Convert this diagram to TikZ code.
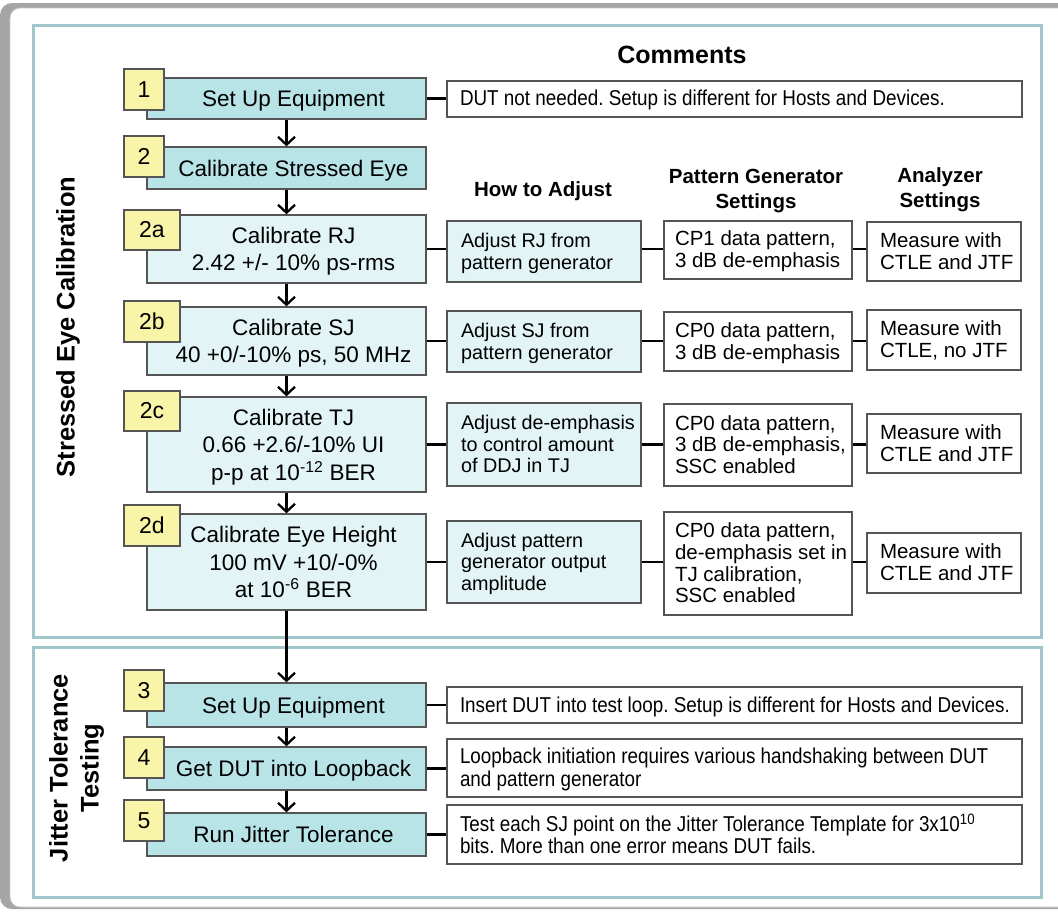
\documentclass[tikz,border=0pt]{standalone}
\usepackage{fontspec}
\setmainfont{Liberation Sans}
\newfontfamily\dgnarrow{Liberation Sans}[FakeStretch=0.877]
\usetikzlibrary{arrows.meta}
\frenchspacing

\definecolor{stepc}{RGB}{184,227,231}
\definecolor{subc}{RGB}{226,244,246}
\definecolor{tagc}{RGB}{249,245,168}
\definecolor{bordc}{RGB}{85,85,85}
\definecolor{secc}{RGB}{160,200,204}
\definecolor{framec}{RGB}{200,200,200}
\definecolor{shadec}{RGB}{165,165,165}

\newcommand\dgstep{\fontsize{22.5}{27.5}\selectfont}
\newcommand\dgbox{\fontsize{20.5}{21.7}\selectfont}
\newcommand\dgadj{\fontsize{19.8}{21.5}\selectfont}
\newcommand\dgcmt{\dgnarrow\fontsize{21.5}{22}\selectfont}
\newcommand\dghead{\bfseries\fontsize{20.5}{24.5}\selectfont}
\newcommand\dgtag{\fontsize{23}{27}\selectfont}
\newcommand\dgsec{\bfseries\fontsize{25.5}{31}\selectfont}
% lowered onto the optical centre while keeping the box size
\newcommand\dgdown[1]{\raisebox{-2.5pt}[\height][\depth]{#1}}
% step text, nudged right of the number tag
\newcommand\dgst[1]{\hspace*{14pt}\dgdown{\begin{tabular}{@{}c@{}}#1\end{tabular}}}
% left-aligned lines in a fixed-width slot, never rewrapped
\newcommand\dgl[2]{\makebox[#1][l]{\dgdown{\begin{tabular}{@{}l@{}}#2\end{tabular}}}}

\begin{document}
\begin{tikzpicture}[x=1pt,y=-1pt,
  boxbase/.style={draw=bordc, line width=1.3pt, inner sep=0pt},
  stepbox/.style={boxbase, fill=stepc, minimum width=279pt, font=\dgstep},
  subbox/.style={boxbase, fill=subc, minimum width=279pt, font=\dgstep},
  tagbox/.style={boxbase, fill=tagc, minimum height=41pt, font=\dgtag},
  adjbox/.style={boxbase, fill=subc, minimum width=194pt, font=\dgadj},
  pgbox/.style={boxbase, fill=white, minimum width=188pt, font=\dgbox},
  anbox/.style={boxbase, fill=white, minimum width=154pt, font=\dgbox},
  cmtbox/.style={boxbase, fill=white, minimum width=575pt, font=\dgcmt},
  head/.style={align=center, font=\dghead, inner sep=0pt},
  seclabel/.style={align=center, font=\dgsec, rotate=90, inner sep=0pt},
  section/.style={draw=secc, line width=3pt, fill=white},
  link/.style={draw=black, line width=2.5pt},
  flow/.style={link, -{Straight Barb[length=8pt,width=17pt,line width=2.3pt]}}
]
\useasboundingbox (0,0) rectangle (1058,911);

% outer frame with its shadow
\fill[shadec, rounded corners=12pt] (0,3) rectangle (1090,909);
\fill[white, rounded corners=10pt] (10,8) rectangle (1090,907);
\draw[framec, line width=0.8pt, rounded corners=10pt] (10,8) rectangle (1090,907);

% the two sections
\draw[section] (33,25) rectangle (1041,637);
\draw[section] (33,647) rectangle (1041,897);

\node[seclabel] (lab1) at (68,327) {Stressed Eye Calibration};
\node[seclabel] (lab2) at (76.5,768) {Jitter Tolerance\\Testing};

% column headings
\node[head, font=\bfseries\fontsize{25}{29}\selectfont] (hc) at (682,55) {Comments};
\node[head] (ha) at (543,191) {How to Adjust};
\node[head] (hp) at (756,191) {Pattern Generator\\Settings};
\node[head] (hn) at (940,189.5) {Analyzer\\Settings};

% steps
\node[stepbox, minimum height=41pt] (s1)  at (286.5,98.5) {\dgst{Set Up Equipment}};
\node[stepbox, minimum height=42pt] (s2)  at (286.5,168)  {\dgst{Calibrate Stressed Eye}};
\node[subbox,  minimum height=68pt] (s2a) at (286.5,249)  {\dgst{Calibrate RJ\\2.42 +/- 10\% ps-rms}};
\node[subbox,  minimum height=68pt] (s2b) at (286.5,341)  {\dgst{Calibrate SJ\\40 +0/-10\% ps, 50 MHz}};
\node[subbox,  minimum height=95pt] (s2c) at (286.5,444.5) {\dgst{Calibrate TJ\\0.66 +2.6/-10\% UI\\p-p at 10\textsuperscript{-12} BER}};
\node[subbox,  minimum height=96pt] (s2d) at (286.5,562)  {\dgst{Calibrate Eye Height\\100 mV +10/-0\%\\at 10\textsuperscript{-6} BER}};
\node[stepbox, minimum height=44pt] (s3)  at (286.5,705)  {\dgst{Set Up Equipment}};
\node[stepbox, minimum height=43pt] (s4)  at (286.5,768.5) {\dgst{Get DUT into Loopback}};
\node[stepbox, minimum height=43pt] (s5)  at (286.5,834.5) {\dgst{Run Jitter Tolerance}};

% number tags
\node[tagbox, minimum width=40pt] (t1)  at (144,89.5)  {1};
\node[tagbox, minimum width=40pt] (t2)  at (144,156.5) {2};
\node[tagbox, minimum width=56pt, minimum height=40pt] (t2a) at (152,230)   {2a};
\node[tagbox, minimum width=56pt] (t2b) at (152,321.5) {2b};
\node[tagbox, minimum width=56pt, minimum height=40pt] (t2c) at (152,411)   {2c};
\node[tagbox, minimum width=56pt] (t2d) at (152,525.5) {2d};
\node[tagbox, minimum width=40pt] (t3)  at (144,690.5) {3};
\node[tagbox, minimum width=40pt] (t4)  at (144,757.5) {4};
\node[tagbox, minimum width=40pt] (t5)  at (144,820.5) {5};

% how to adjust
\node[adjbox, minimum height=61pt] (a2a) at (544,251.5) {\dgl{166pt}{Adjust RJ from\\pattern generator}};
\node[adjbox, minimum height=61pt] (a2b) at (544,341.5) {\dgl{166pt}{Adjust SJ from\\pattern generator}};
\node[adjbox, minimum height=83pt] (a2c) at (544,444.5) {\dgl{166pt}{Adjust de-emphasis\\to control amount\\of DDJ in TJ}};
\node[adjbox, minimum height=82pt] (a2d) at (544,562)   {\dgl{166pt}{Adjust pattern\\generator output\\amplitude}};

% pattern generator settings
\node[pgbox, minimum height=58pt]  (p2a) at (758,250)   {\dgl{166pt}{CP1 data pattern,\\3 dB de-emphasis}};
\node[pgbox, minimum height=59pt]  (p2b) at (758,341.5) {\dgl{166pt}{CP0 data pattern,\\3 dB de-emphasis}};
\node[pgbox, minimum height=82pt]  (p2c) at (758,445)   {\dgl{166pt}{CP0 data pattern,\\3 dB de-emphasis,\\SSC enabled}};
\node[pgbox, minimum height=103pt] (p2d) at (758,563.5) {\dgl{166pt}{CP0 data pattern,\\de-emphasis set in\\TJ calibration,\\SSC enabled}};

% analyzer settings
\node[anbox, minimum height=59pt] (n2a) at (944,251.5) {\dgl{128pt}{Measure with\\CTLE and JTF}};
\node[anbox, minimum height=60pt] (n2b) at (944,340)   {\dgl{128pt}{Measure with\\CTLE, no JTF}};
\node[anbox, minimum height=59pt] (n2c) at (944,443.5) {\dgl{128pt}{Measure with\\CTLE and JTF}};
\node[anbox, minimum height=60pt] (n2d) at (944,563)   {\dgl{128pt}{Measure with\\CTLE and JTF}};

% comments
\node[cmtbox, minimum height=36pt] (c1) at (734.5,99)   {\dgl{549pt}{DUT not needed. Setup is different for Hosts and Devices.}};
\node[cmtbox, minimum height=36pt] (c3) at (734.5,705)  {\dgl{549pt}{Insert DUT into test loop. Setup is different for Hosts and Devices.}};
\node[cmtbox, minimum height=58pt] (c4) at (734.5,768)  {\dgl{549pt}{Loopback initiation requires various handshaking between DUT\\and pattern generator}};
\node[cmtbox, minimum height=59pt] (c5) at (734.5,834.5) {\dgl{549pt}{Test each SJ point on the Jitter Tolerance Template for 3x10\textsuperscript{10}\\bits. More than one error means DUT fails.}};

% flow arrows
\draw[flow] (s1) -- (s2);
\draw[flow] (s2) -- (s2a);
\draw[flow] (s2a) -- (s2b);
\draw[flow] (s2b) -- (s2c);
\draw[flow] (s2c) -- (s2d);
\draw[flow] (s2d) -- (s3);
\draw[flow] (s3) -- (s4);
\draw[flow] (s4) -- (s5);

% horizontal links
\foreach \r in {1,3,4,5} {
  \draw[link] (s\r.east) -- (s\r.east -| c\r.west);
}
\foreach \r in {2a,2b,2c,2d} {
  \draw[link] (s\r.east) -- (s\r.east -| a\r.west);
  \draw[link] (a\r.east |- s\r.east) -- (s\r.east -| p\r.west);
  \draw[link] (p\r.east |- s\r.east) -- (s\r.east -| n\r.west);
}
\end{tikzpicture}
\end{document}
